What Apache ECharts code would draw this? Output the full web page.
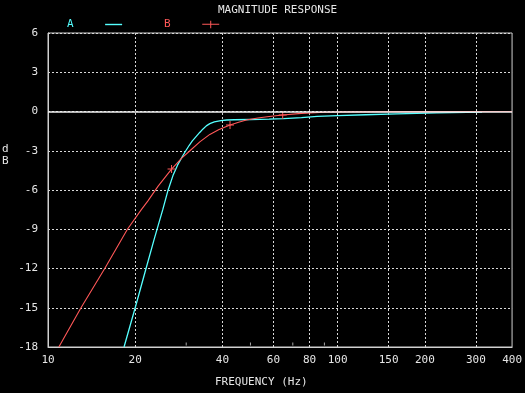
<!DOCTYPE html>
<html>
<head>
<meta charset="utf-8">
<script src="https://cdn.jsdelivr.net/npm/echarts@6/dist/echarts.min.js"></script>
<style>
html,body{margin:0;padding:0;background:#000;}
#c{width:525px;height:393px;}
</style>
</head>
<body>
<div id="c"></div>
<script>
// Curve A (cyan)
const freqA = [18.3, 20.0, 21.8, 23.3, 24.9, 25.9, 27.0, 28.0, 29.0, 29.9, 30.7, 31.5, 32.5, 33.4, 34.3, 35.2, 36.2, 37.5, 39.5, 41.4, 44, 50, 58, 65, 75, 85, 100, 125, 160, 220, 315];
const dbA   = [-18.0, -15.0, -12.0, -9.7, -7.5, -6.1, -4.9, -4.1, -3.5, -3.0, -2.6, -2.25, -1.9, -1.6, -1.33, -1.1, -0.93, -0.8, -0.7, -0.65, -0.63, -0.61, -0.59, -0.55, -0.47, -0.38, -0.32, -0.25, -0.18, -0.1, -0.05];
// Curve B (red)
const freqB = [10.9, 13.0, 15.7, 18.8, 21.0, 22.1, 24.0, 26.7, 29.0, 30.9, 33.5, 36.2, 38.8, 42.5, 45.5, 48.4, 53, 58, 64.6, 75, 90, 105, 150, 400];
const dbB   = [-18.0, -15.0, -12.0, -9.0, -7.5, -6.85, -5.7, -4.4, -3.55, -3.0, -2.3, -1.75, -1.4, -1.03, -0.82, -0.65, -0.5, -0.38, -0.27, -0.14, -0.06, -0.03, -0.01, 0.0];
const markerIdxB = [7, 13, 18];
// Axis ticks
const xLabels = [10, 20, 40, 60, 80, 100, 150, 200, 300, 400];
const xGrid = [20, 40, 60, 80, 100, 150, 200, 300];
const xMinor = [30, 50, 70, 90];

const FONT = 'DejaVu Sans Mono';
const TXT = '#e6e6e6';
const CYAN = '#55ffff';
const RED = '#ff5858';
const PLUS = 'path://M0,3.5h8v1h-8zM3.5,0h1v8h-1z';

const chart = echarts.init(document.getElementById('c'), null, {renderer: 'canvas'});
chart.setOption({
  backgroundColor: '#000',
  animation: false,
  title: {
    text: 'MAGNITUDE RESPONSE',
    left: 213, top: 0,
    textStyle: {color: TXT, fontFamily: FONT, fontSize: 11, fontWeight: 'normal'}
  },
  legend: {
    data: [
      {name: 'A', icon: 'path://M0,3.5h17v1.4h-17z', textStyle: {color: CYAN}},
      {name: 'B', icon: 'path://M0,3.5h17v1h-17zM8,0.5h1v7.5h-1z', textStyle: {color: RED}}
    ],
    left: 62, top: 14,
    align: 'right',
    itemWidth: 17, itemHeight: 8,
    itemGap: 42,
    formatter: n => n + '    ',
    textStyle: {fontFamily: FONT, fontSize: 11, color: TXT},
    selectedMode: false
  },
  graphic: [
    {type: 'text', left: 2, top: 143, style: {text: 'd\nB', fill: TXT, font: '11px ' + FONT, lineHeight: 12}},
    {type: 'text', left: 215, top: 377, style: {text: 'FREQUENCY (Hz)', fill: TXT, font: '11px ' + FONT}}
  ],
  grid: {left: 48, right: 12, top: 33, bottom: 46, show: true, borderColor: '#d0d0d0', borderWidth: 1, backgroundColor: 'transparent'},
  xAxis: {
    type: 'log', logBase: 10, min: 10, max: 400,
    axisLine: {show: true, onZero: false, lineStyle: {color: '#d0d0d0'}},
    axisTick: {show: false, customValues: xGrid},
    minorTick: {show: false},
    axisLabel: {customValues: xLabels, color: TXT, fontFamily: FONT, fontSize: 11, margin: 8, showMinLabel: true, showMaxLabel: true},
    splitLine: {show: true, lineStyle: {color: '#d8d8d8', type: [2, 2], width: 1}}
  },
  yAxis: {
    type: 'value', min: -18, max: 6, interval: 3,
    axisLine: {show: true, lineStyle: {color: '#d0d0d0'}},
    axisTick: {show: false},
    axisLabel: {color: TXT, fontFamily: FONT, fontSize: 11, margin: 10},
    splitLine: {show: true, lineStyle: {color: '#d8d8d8', type: [2, 2], width: 1}}
  },
  series: [
    {
      type: 'scatter', name: 'minor', silent: true, clip: false,
      symbol: 'rect', symbolSize: [1, 3], symbolOffset: [0, -3],
      itemStyle: {color: '#d0d0d0'},
      data: xMinor.map(f => [f, -18]),
      markLine: {
        silent: true, symbol: 'none', label: {show: false},
        lineStyle: {color: '#f0f0f0', type: 'solid', width: 1.5},
        data: [{yAxis: 0}]
      }
    },
    {
      type: 'line', name: 'A', silent: true,
      symbol: 'none',
      lineStyle: {color: CYAN, width: 1.3},
      itemStyle: {color: CYAN},
      data: freqA.map((f, i) => [f, dbA[i]])
    },
    {
      type: 'line', name: 'B', silent: true,
      symbol: PLUS, symbolSize: 8, showSymbol: true, showAllSymbol: true,
      lineStyle: {color: RED, width: 1.1},
      itemStyle: {color: RED},
      data: freqB.map((f, i) => markerIdxB.includes(i) ? [f, dbB[i]] : {value: [f, dbB[i]], symbol: 'none'})
    }
  ]
});
</script>
</body>
</html>
